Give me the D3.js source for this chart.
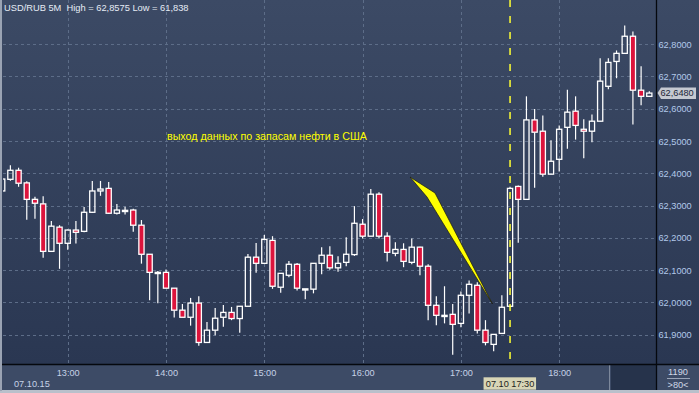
<!DOCTYPE html>
<html><head><meta charset="utf-8">
<script src="https://cdn.jsdelivr.net/npm/d3@7"></script>
<style>html,body{margin:0;padding:0;background:#b9c0cb;overflow:hidden}svg{display:block}</style>
</head><body><svg id="c" width="699" height="393"></svg>
<script>
// ---- data (USD/RUB, 5-minute bars, 07.10.15 12:20 .. 18:55) ----
const startTime = "2015-10-07 12:20";
const barMinutes = 5;
const opens = [62.345, 62.381, 62.409, 62.370, 62.319, 62.305, 62.158, 62.233, 62.183, 62.224,
  62.220, 62.279, 62.345, 62.353, 62.276, 62.285, 62.286, 62.239, 62.149, 62.093,
  62.093, 62.044, 61.976, 61.954, 61.998, 61.876, 61.914, 61.954, 61.969, 61.950,
  61.988, 62.140, 62.121, 62.192, 62.047, 62.084, 62.118, 62.040, 62.041, 62.121,
  62.146, 62.107, 62.124, 62.148, 62.242, 62.205, 62.335, 62.205, 62.152, 62.164,
  62.124, 62.171, 62.112, 61.991, 61.959, 61.963, 61.935, 62.022, 62.053, 61.914,
  61.870, 61.904, 61.988, 62.359, 62.319, 62.565, 62.530, 62.397, 62.443, 62.542,
  62.592, 62.536, 62.530, 62.561, 62.669, 62.746, 62.771, 62.824, 62.657, 62.638];
const highs = [62.388, 62.425, 62.417, 62.375, 62.327, 62.329, 62.252, 62.239, 62.226, 62.252,
  62.295, 62.376, 62.376, 62.373, 62.305, 62.296, 62.290, 62.255, 62.150, 62.097,
  62.102, 62.044, 61.995, 62.014, 62.019, 61.939, 61.983, 61.992, 61.986, 61.989,
  62.150, 62.184, 62.209, 62.205, 62.091, 62.128, 62.122, 62.042, 62.122, 62.171,
  62.174, 62.143, 62.202, 62.298, 62.258, 62.351, 62.341, 62.217, 62.186, 62.183,
  62.198, 62.172, 62.118, 62.019, 62.050, 61.995, 62.034, 62.068, 62.062, 61.945,
  61.902, 62.022, 62.358, 62.362, 62.638, 62.599, 62.579, 62.502, 62.548, 62.658,
  62.638, 62.567, 62.582, 62.756, 62.756, 62.780, 62.8575, 62.839, 62.731, 62.654];
const lows = [62.339, 62.377, 62.358, 62.256, 62.259, 62.138, 62.156, 62.104, 62.163, 62.182,
  62.217, 62.277, 62.330, 62.274, 62.272, 62.272, 62.219, 62.120, 62.007, 61.997,
  62.044, 61.953, 61.954, 61.928, 61.866, 61.875, 61.898, 61.925, 61.945, 61.906,
  61.987, 62.092, 62.120, 62.042, 62.030, 62.078, 62.037, 62.010, 62.028, 62.087,
  62.101, 62.095, 62.112, 62.144, 62.198, 62.204, 62.198, 62.127, 62.143, 62.109,
  62.118, 62.084, 61.945, 61.929, 61.935, 61.838, 61.923, 61.966, 61.904, 61.867,
  61.849, 61.903, 61.987, 62.185, 62.318, 62.355, 62.389, 62.396, 62.405, 62.476,
  62.504, 62.446, 62.496, 62.560, 62.660, 62.694, 62.770, 62.551, 62.610, 62.637];
const closes = [62.382, 62.409, 62.369, 62.319, 62.307, 62.158, 62.236, 62.183, 62.224, 62.217,
  62.279, 62.345, 62.351, 62.276, 62.286, 62.285, 62.239, 62.149, 62.093, 62.093,
  62.044, 61.976, 61.954, 61.998, 61.876, 61.914, 61.951, 61.969, 61.950, 61.988,
  62.140, 62.121, 62.195, 62.050, 62.090, 62.118, 62.044, 62.042, 62.121, 62.146,
  62.107, 62.121, 62.149, 62.245, 62.205, 62.335, 62.205, 62.155, 62.164, 62.127,
  62.171, 62.112, 61.991, 61.960, 61.960, 61.932, 62.022, 62.056, 61.914, 61.876,
  61.901, 61.985, 62.353, 62.319, 62.565, 62.527, 62.397, 62.437, 62.536, 62.589,
  62.548, 62.530, 62.561, 62.685, 62.743, 62.771, 62.824, 62.657, 62.638, 62.648];
const priceTicks = [61.9, 62.0, 62.1, 62.2, 62.3, 62.4, 62.5, 62.6, 62.7, 62.8];
const timeTicks = ["13:00", "14:00", "15:00", "16:00", "17:00", "18:00"];
const titleText = "USD/RUB 5M  High = 62,8575 Low = 61,838";
const noteText = "выход данных по запасам нефти в США";
const dateLabel = "07.10.15";
const eventTime = "17:30";
const eventLabel = "07.10 17:30";
const lastPrice = 62.648;
const infoTop = "1190", infoBottom = ">80<";

// ---- setup ----
const W = 699, H = 393;
const plotL = 3, plotR = 656, plotT = 0, plotB = 364;
const FONT = "'Liberation Sans', Arial, sans-serif";
const parse = d3.timeParse("%Y-%m-%d %H:%M");
const t0 = parse(startTime);
const times = opens.map((_, i) => d3.timeMinute.offset(t0, i * barMinutes));
const day = startTime.slice(0, 10);
const x = d3.scaleTime().domain([times[0], times[times.length - 1]]).range([2.2, 649.3]);
const y = d3.scaleLinear().domain([61.9, 62.8]).range([334.7, 44]);
const fmtP = d => d3.format(".4f")(d).replace(".", ",");

const svg = d3.select("#c");
const defs = svg.append("defs");
const grad = defs.append("linearGradient").attr("id", "bg").attr("x1", 0).attr("y1", 0).attr("x2", 0).attr("y2", 1);
grad.append("stop").attr("offset", "0%").attr("stop-color", "#3c4a65");
grad.append("stop").attr("offset", "100%").attr("stop-color", "#2a3752");
defs.append("clipPath").attr("id", "clip").append("rect")
  .attr("x", plotL).attr("y", plotT).attr("width", plotR - plotL).attr("height", plotB - plotT);

// backgrounds
svg.append("rect").attr("width", W).attr("height", H).attr("fill", "#b9c0cb");
svg.append("rect").attr("x", 0).attr("y", 0).attr("width", W).attr("height", plotB).attr("fill", "url(#bg)");
svg.append("rect").attr("x", 0).attr("y", plotB).attr("width", W).attr("height", 26).attr("fill", "#3d4b66");
svg.append("rect").attr("x", 0).attr("y", 0).attr("width", 2).attr("height", 391).attr("fill", "#9aa3b3");
svg.append("rect").attr("x", 611).attr("y", plotB + 1).attr("width", 45).attr("height", 25).attr("fill", "#26334b");
svg.append("line").attr("x1", 609.5).attr("x2", 609.5).attr("y1", plotB + 1).attr("y2", 390)
  .attr("stroke", "#7d889b").attr("stroke-width", 1);

const plot = svg.append("g").attr("clip-path", "url(#clip)");

// grid
plot.append("g").selectAll("line").data(priceTicks).join("line")
  .attr("x1", plotL).attr("x2", plotR)
  .attr("y1", d => Math.round(y(d)) + 0.5).attr("y2", d => Math.round(y(d)) + 0.5)
  .attr("stroke", "#5d6d88").attr("stroke-dasharray", "3,3").attr("stroke-width", 1);
const tickDates = timeTicks.map(s => parse(day + " " + s));
plot.append("g").selectAll("line").data(tickDates).join("line")
  .attr("x1", d => Math.round(x(d)) + 0.5).attr("x2", d => Math.round(x(d)) + 0.5)
  .attr("y1", plotT).attr("y2", plotB)
  .attr("stroke", "#5d6d88").attr("stroke-dasharray", "3,3").attr("stroke-width", 1);

// candles
const bars = opens.map((o, i) => ({ t: times[i], o, h: highs[i], l: lows[i], c: closes[i] }));
const bw = 5.2;
const cg = plot.append("g");
bars.forEach(b => {
  const cx = x(b.t);
  const top = y(Math.max(b.o, b.c)), bot = y(Math.min(b.o, b.c));
  const bh = Math.max(bot - top, 1.2);
  const up = b.c >= b.o;
  cg.append("line").attr("x1", cx).attr("x2", cx).attr("y1", y(b.h)).attr("y2", top)
    .attr("stroke", "#fff").attr("stroke-width", 1.2);
  cg.append("line").attr("x1", cx).attr("x2", cx).attr("y1", top + bh).attr("y2", y(b.l))
    .attr("stroke", "#fff").attr("stroke-width", 1.2);
  cg.append("rect").attr("x", cx - bw / 2).attr("y", top).attr("width", bw).attr("height", bh)
    .attr("fill", up ? "none" : "#dc143c").attr("stroke", "#fff").attr("stroke-width", 1.3);
});

// event dashed line
const ex = x(parse(day + " " + eventTime));
plot.append("line").attr("x1", ex).attr("x2", ex).attr("y1", plotT).attr("y2", plotB)
  .attr("stroke", "#ffff33").attr("stroke-width", 1.5).attr("stroke-dasharray", "7,9");

// annotation arrow
plot.append("polygon")
  .attr("points", "410,177 435,193 492.5,304 427,197")
  .attr("fill", "#ffff00").attr("stroke", "#1a1a10").attr("stroke-width", 0.7);

// annotation text
svg.append("text").attr("x", 167).attr("y", 139.5).text(noteText)
  .attr("fill", "#ffff00").attr("font-family", FONT).attr("font-size", "10.7px");

// title
svg.append("text").attr("x", 4).attr("y", 11).text(titleText)
  .attr("fill", "#e6ecf5").attr("font-family", FONT).attr("font-size", "9.3px")
  .attr("xml:space", "preserve").style("white-space", "pre");

// frame lines
svg.append("line").attr("x1", 2).attr("x2", W).attr("y1", plotB + 0.5).attr("y2", plotB + 0.5)
  .attr("stroke", "#05080e").attr("stroke-width", 1.3);
svg.append("line").attr("x1", plotR + 0.5).attr("x2", plotR + 0.5).attr("y1", 0).attr("y2", 390)
  .attr("stroke", "#05080e").attr("stroke-width", 1.3);

// right price axis
const yAxis = d3.axisRight(y).tickValues(priceTicks).tickFormat(fmtP).tickSize(0).tickPadding(0);
const ya = svg.append("g").attr("transform", `translate(${plotR + 2.5},0)`).call(yAxis);
ya.select(".domain").remove();
ya.selectAll("text").attr("fill", "#b2c9ea").attr("font-family", FONT).attr("font-size", "9.2px")
  .attr("dy", "0.34em");

// last price marker
const ly = y(lastPrice);
svg.append("path")
  .attr("d", `M${plotR + 1.5},${ly} L${plotR + 5},${ly - 5.5} L${plotR + 40},${ly - 5.5} L${plotR + 40},${ly + 6} L${plotR + 5},${ly + 6} Z`)
  .attr("fill", "#c5c9d1");
svg.append("text").attr("x", plotR + 4.5).attr("y", ly).attr("dy", "0.36em").text(fmtP(lastPrice))
  .attr("fill", "#1c2638").attr("font-family", FONT).attr("font-size", "9.2px");

// bottom time axis
const xAxis = d3.axisBottom(x).tickValues(tickDates).tickFormat(d3.timeFormat("%H:%M")).tickSize(0).tickPadding(0);
const xa = svg.append("g").attr("transform", `translate(0,${plotB + 5})`).call(xAxis);
xa.select(".domain").remove();
xa.selectAll("text").attr("fill", "#c6d2e6").attr("font-family", FONT).attr("font-size", "9.2px")
  .attr("dy", "0.71em");
svg.append("text").attr("x", 14).attr("y", 387).text(dateLabel)
  .attr("fill", "#c6d2e6").attr("font-family", FONT).attr("font-size", "9.2px");

// event label
svg.append("rect").attr("x", ex - 26.5).attr("y", 377.3).attr("width", 52.5).attr("height", 12.4).attr("fill", "#d8d5b6");
svg.append("text").attr("x", ex).attr("y", 387).attr("text-anchor", "middle").text(eventLabel)
  .attr("fill", "#1d1d1d").attr("font-family", FONT).attr("font-size", "9.2px");

// info cell
svg.append("text").attr("x", 678).attr("y", 375).attr("text-anchor", "middle").text(infoTop)
  .attr("fill", "#d0d8e6").attr("font-family", FONT).attr("font-size", "9.2px");
svg.append("line").attr("x1", 667).attr("x2", 690).attr("y1", 378.5).attr("y2", 378.5)
  .attr("stroke", "#9aa5b8").attr("stroke-width", 1);
svg.append("text").attr("x", 678).attr("y", 388).attr("text-anchor", "middle").text(infoBottom)
  .attr("fill", "#d0d8e6").attr("font-family", FONT).attr("font-size", "9.2px");
</script></body></html>
